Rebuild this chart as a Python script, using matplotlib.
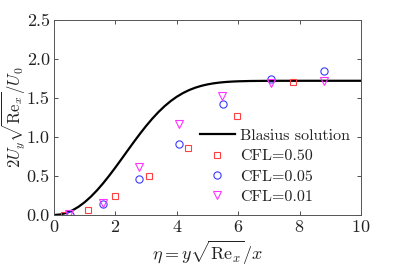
import matplotlib
matplotlib.use("Agg")
import matplotlib.pyplot as plt

plt.rcParams['font.family'] = 'serif'
plt.rcParams['font.serif'] = ['cmr10']
plt.rcParams['mathtext.fontset'] = 'cm'
plt.rcParams['axes.formatter.use_mathtext'] = True

# Blasius solution, 2 U_y sqrt(Re_x) / U_0 = eta f' - f
eta_blasius = [0.0, 0.2, 0.4, 0.6, 0.8, 1.0, 1.2, 1.4, 1.6, 1.8, 2.0, 2.2, 2.4, 2.6, 2.8,
               3.0, 3.2, 3.4, 3.6, 3.8, 4.0, 4.2, 4.4, 4.6, 4.8, 5.0, 5.2, 5.4, 5.6, 5.8,
               6.0, 6.4, 7.0, 8.0, 10.0]
v_blasius = [0.0, 0.0066, 0.0266, 0.0596, 0.1057, 0.1642, 0.2346, 0.3158, 0.4065, 0.5051,
             0.6095, 0.7177, 0.8273, 0.9359, 1.0413, 1.1413, 1.2344, 1.3191, 1.3945, 1.4602,
             1.5163, 1.5632, 1.6015, 1.6321, 1.6561, 1.6745, 1.6882, 1.6983, 1.7056, 1.7107,
             1.7142, 1.7181, 1.7202, 1.7208, 1.7208]

eta_cfl050 = [0.33, 1.1, 1.99, 3.08, 4.38, 5.95, 7.8]
v_cfl050 = [0.0, 0.07, 0.24, 0.50, 0.855, 1.27, 1.71]

eta_cfl005 = [0.52, 1.61, 2.77, 4.07, 5.49, 7.06, 8.8]
v_cfl005 = [0.0, 0.14, 0.46, 0.91, 1.42, 1.75, 1.85]

eta_cfl001 = [0.5, 1.61, 2.78, 4.07, 5.48, 7.06, 8.8]
v_cfl001 = [0.01, 0.15, 0.61, 1.17, 1.52, 1.69, 1.72]

fig = plt.figure(figsize=(3.99, 2.66), dpi=100)
ax = fig.add_axes([0.1353, 0.1917, 0.7695, 0.7331])

ax.plot(eta_blasius, v_blasius, color='black', lw=1.6, label='Blasius solution')
ax.plot(eta_cfl050, v_cfl050, 's', ms=4.3, mfc='none', mec='#ff4040', mew=0.8, label='CFL=0.50')
ax.plot(eta_cfl005, v_cfl005, 'o', ms=5.2, mfc='none', mec='#3a3aff', mew=0.8, label='CFL=0.05')
ax.plot(eta_cfl001, v_cfl001, 'v', ms=5.8, mfc='none', mec='#ff33ff', mew=0.8, label='CFL=0.01')

ax.set_xlim(0, 10)
ax.set_ylim(0, 2.5)
ax.set_xticks([0, 2, 4, 6, 8, 10])
ax.set_yticks([0, 0.5, 1.0, 1.5, 2.0, 2.5])
ax.set_yticklabels(['0.0', '0.5', '1.0', '1.5', '2.0', '2.5'])
ax.tick_params(direction='in', top=True, right=True, length=3, width=0.6,
               labelsize=13, colors='#333333', labelcolor='#222222', pad=3)
for s in ax.spines.values():
    s.set_color('#555555')
    s.set_linewidth(0.7)

ax.set_xlabel(r'$\eta = y\sqrt{\mathrm{Re}_x}/x$', fontsize=13, color='#222222')
ax.set_ylabel(r'$2U_y\sqrt{\mathrm{Re}_x}/U_0$', fontsize=12, color='#222222')
ax.xaxis.set_label_coords(0.5, -0.125)
ax.yaxis.set_label_coords(-0.086, 0.5)

leg = ax.legend(loc='lower right', bbox_to_anchor=(1.0, 0.0), frameon=False, fontsize=11.5,
                handlelength=2.2, handletextpad=0.3, labelspacing=0.38, borderpad=0.2)
for t in leg.get_texts():
    t.set_color('#222222')

fig.savefig('out.png', dpi=100)
